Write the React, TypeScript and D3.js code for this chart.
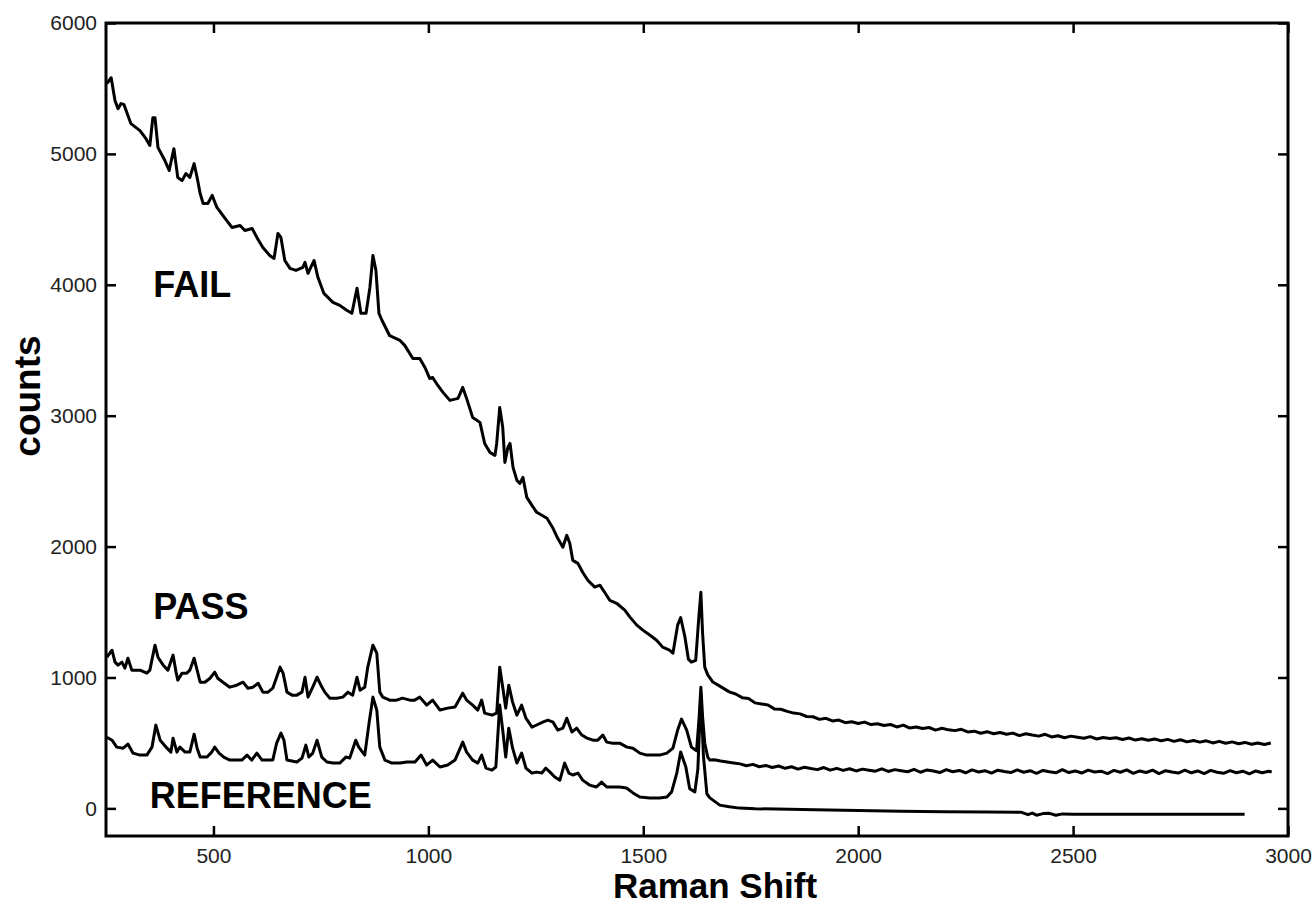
import React, { useEffect, useRef } from 'react'
import * as d3 from 'd3'

// spectra: [raman shift, counts]
const failSpectrum: [number, number][] = [
  [252,5537],[262,5582],[271,5406],[278,5346],[285,5384],[292,5376],[297,5330],[308,5231],[329,5178],[343,5116],
  [352,5064],[359,5277],[364,5277],[371,5048],[387,4949],[397,4873],[408,5040],[417,4820],[427,4796],[436,4850],
  [445,4820],[455,4926],[462,4820],[469,4698],[476,4621],[487,4621],[497,4683],[508,4591],[527,4507],[543,4438],
  [562,4453],[573,4415],[590,4430],[601,4362],[615,4285],[631,4224],[641,4201],[650,4392],[657,4362],[666,4186],
  [678,4125],[692,4110],[708,4133],[713,4171],[720,4087],[734,4186],[743,4057],[757,3934],[778,3866],[794,3843],
  [810,3805],[822,3782],[834,3973],[843,3782],[855,3782],[864,3980],[871,4224],[878,4110],[885,3782],[892,3729],
  [910,3611],[934,3575],[945,3537],[964,3437],[980,3437],[992,3369],[1003,3285],[1010,3292],[1022,3231],[1034,3178],
  [1050,3117],[1069,3132],[1080,3216],[1089,3132],[1103,2987],[1120,2949],[1131,2788],[1143,2720],[1155,2697],[1159,2788],
  [1166,3063],[1173,2911],[1178,2643],[1185,2758],[1190,2788],[1197,2605],[1206,2506],[1213,2483],[1220,2529],[1229,2376],
  [1241,2315],[1252,2262],[1264,2239],[1276,2216],[1290,2140],[1301,2063],[1313,1995],[1322,2086],[1329,2025],[1336,1895],
  [1348,1872],[1359,1804],[1371,1743],[1387,1690],[1399,1705],[1410,1651],[1422,1590],[1438,1567],[1457,1514],[1469,1461],
  [1485,1400],[1499,1362],[1515,1324],[1531,1285],[1545,1232],[1561,1209],[1569,1186],[1580,1400],[1587,1458],[1597,1308],
  [1605,1140],[1612,1117],[1622,1130],[1629,1450],[1634,1651],[1638,1338],[1643,1079],[1650,1020],[1662,965],[1680,930],
  [1700,890],[1715,874],[1730,846],[1745,840],[1760,806],[1775,798],[1790,790],[1805,760],[1820,757],[1835,741],
  [1850,728],[1865,722],[1880,702],[1895,700],[1910,680],[1925,688],[1940,668],[1955,675],[1970,655],[1985,662],
  [2000,648],[2015,659],[2030,640],[2045,646],[2060,633],[2075,641],[2090,622],[2105,636],[2120,614],[2135,622],
  [2150,610],[2165,618],[2180,598],[2195,612],[2210,600],[2225,594],[2240,604],[2255,584],[2270,590],[2285,574],
  [2300,586],[2315,570],[2330,580],[2345,566],[2360,575],[2375,556],[2390,570],[2405,560],[2420,552],[2435,566],
  [2450,546],[2465,555],[2480,540],[2495,552],[2510,544],[2525,536],[2540,548],[2555,530],[2570,542],[2585,534],
  [2600,540],[2615,526],[2630,538],[2645,522],[2660,532],[2675,520],[2690,530],[2705,516],[2720,527],[2735,512],
  [2750,524],[2765,508],[2780,518],[2795,506],[2810,516],[2825,500],[2840,512],[2855,498],[2870,508],[2885,494],
  [2900,504],[2915,490],[2930,500],[2945,488],[2960,500]
]

const passSpectrum: [number, number][] = [
  [252,1155],[264,1208],[271,1117],[278,1094],[287,1117],[294,1071],[301,1147],[310,1056],[329,1056],[345,1033],
  [352,1056],[364,1247],[371,1155],[383,1094],[394,1056],[406,1171],[413,1041],[417,980],[427,1033],[438,1033],
  [445,1056],[455,1147],[462,1056],[469,964],[480,964],[492,994],[503,1041],[510,994],[522,964],[538,926],
  [554,941],[569,964],[580,918],[592,926],[604,956],[615,888],[627,888],[638,918],[647,1002],[655,1079],
  [662,1033],[671,888],[683,865],[694,865],[706,888],[713,1002],[720,850],[731,926],[741,1002],[750,941],
  [759,888],[771,842],[787,842],[801,850],[813,888],[824,865],[834,1002],[841,903],[852,926],[859,1079],
  [871,1247],[880,1186],[887,888],[894,850],[910,827],[926,827],[940,842],[957,827],[968,827],[980,850],
  [996,789],[1010,827],[1027,751],[1045,766],[1062,774],[1080,880],[1089,827],[1103,789],[1115,751],[1124,827],
  [1131,728],[1148,712],[1159,728],[1166,1079],[1173,926],[1180,766],[1187,941],[1196,812],[1206,712],[1217,789],
  [1227,689],[1241,621],[1252,637],[1266,659],[1278,674],[1290,659],[1301,598],[1313,613],[1322,689],[1334,583],
  [1345,613],[1357,560],[1369,537],[1383,521],[1394,521],[1406,560],[1415,506],[1429,498],[1445,498],[1462,468],
  [1476,460],[1492,422],[1508,407],[1522,407],[1538,407],[1555,422],[1569,460],[1580,598],[1589,682],[1601,598],
  [1612,468],[1624,440],[1630,700],[1634,926],[1638,700],[1643,498],[1650,392],[1655,369],[1665,372],[1680,362],
  [1695,354],[1710,347],[1725,340],[1740,326],[1755,336],[1770,318],[1785,328],[1800,312],[1815,324],[1830,306],
  [1845,318],[1860,300],[1875,314],[1890,304],[1905,296],[1920,312],[1935,292],[1950,306],[1965,290],[1980,303],
  [1995,286],[2010,300],[2025,292],[2040,284],[2055,302],[2070,282],[2085,296],[2100,288],[2115,280],[2130,298],
  [2145,276],[2160,294],[2175,286],[2190,274],[2205,296],[2220,280],[2235,290],[2250,272],[2265,294],[2280,278],
  [2295,288],[2310,270],[2325,292],[2340,282],[2355,274],[2370,294],[2385,276],[2400,288],[2415,268],[2430,290],
  [2445,280],[2460,272],[2475,296],[2490,274],[2505,286],[2520,270],[2535,292],[2550,278],[2565,284],[2580,266],
  [2595,290],[2610,276],[2625,294],[2640,268],[2655,286],[2670,274],[2685,292],[2700,266],[2715,288],[2730,278],
  [2745,270],[2760,292],[2775,272],[2790,286],[2805,266],[2820,290],[2835,276],[2850,268],[2865,288],[2880,272],
  [2895,284],[2910,264],[2925,286],[2940,272],[2955,284],[2962,278]
]

const referenceSpectrum: [number, number][] = [
  [252,544],[264,521],[275,468],[290,460],[301,491],[313,422],[329,407],[345,407],[357,468],[366,636],
  [376,521],[392,460],[401,430],[406,536],[415,430],[422,468],[434,430],[445,430],[455,567],[462,460],
  [469,392],[485,392],[496,430],[503,468],[513,422],[524,392],[538,369],[554,369],[566,369],[578,407],
  [589,369],[601,422],[613,369],[638,369],[647,498],[657,575],[664,521],[671,369],[694,354],[706,384],
  [715,483],[722,392],[731,422],[741,521],[752,392],[764,354],[778,346],[794,346],[808,392],[817,384],
  [831,521],[838,468],[852,407],[862,651],[871,850],[880,751],[887,468],[899,369],[915,346],[934,346],
  [950,354],[969,354],[983,407],[996,331],[1010,369],[1027,316],[1045,331],[1062,369],[1080,506],[1089,430],
  [1103,369],[1115,346],[1124,407],[1134,308],[1148,292],[1157,316],[1166,789],[1173,598],[1180,392],[1187,613],
  [1196,460],[1206,346],[1217,422],[1227,308],[1241,270],[1252,277],[1264,270],[1273,308],[1283,277],[1294,240],
  [1306,216],[1317,346],[1327,270],[1336,255],[1348,270],[1359,216],[1375,178],[1391,163],[1403,201],[1415,163],
  [1429,163],[1445,163],[1461,156],[1476,118],[1492,87],[1515,80],[1538,80],[1555,87],[1566,126],[1578,270],
  [1587,430],[1599,316],[1608,150],[1620,126],[1627,300],[1634,870],[1640,400],[1648,110],[1655,80],[1678,25],
  [1700,12],[1724,2],[1760,-3],[1810,-5],[1900,-10],[2000,-16],[2100,-22],[2200,-26],[2300,-28],[2380,-30],
  [2395,-48],[2405,-36],[2415,-52],[2430,-40],[2445,-38],[2460,-52],[2475,-42],[2500,-44],[2600,-44],[2700,-44],
  [2800,-44],[2899,-44]
]

const xTicks = [500, 1000, 1500, 2000, 2500, 3000]
const yTicks = [0, 1000, 2000, 3000, 4000, 5000, 6000]

const labels = [
  { text: 'FAIL', shift: 360, counts: 3910 },
  { text: 'PASS', shift: 360, counts: 1450 },
  { text: 'REFERENCE', shift: 352, counts: 0 },
]

const W = 1315
const H = 906
const margin = { top: 23, right: 27, bottom: 70, left: 106 }

export default function App() {
  const ref = useRef<SVGSVGElement>(null)

  useEffect(() => {
    const svg = d3.select(ref.current)
    svg.selectAll('*').remove()

    const x = d3.scaleLinear().domain([250, 3000]).range([margin.left, W - margin.right])
    const y = d3.scaleLinear().domain([-211, 6000]).range([H - margin.bottom, margin.top])

    const font = '"Liberation Sans", Arial, sans-serif'
    const fmt = d3.format('d')

    svg.append('rect').attr('width', W).attr('height', H).attr('fill', '#fff')

    // ticks point inward on all four sides
    const bottom = svg.append('g')
      .attr('transform', `translate(0,${H - margin.bottom})`)
      .call(d3.axisBottom(x).tickValues(xTicks).tickFormat(fmt).tickSizeInner(-10).tickSizeOuter(0).tickPadding(12))
    const left = svg.append('g')
      .attr('transform', `translate(${margin.left},0)`)
      .call(d3.axisLeft(y).tickValues(yTicks).tickFormat(fmt).tickSizeInner(-10).tickSizeOuter(0).tickPadding(9))
    const top = svg.append('g')
      .attr('transform', `translate(0,${margin.top})`)
      .call(d3.axisTop(x).tickValues(xTicks).tickSizeInner(-10).tickSizeOuter(0).tickFormat(() => ''))
    const right = svg.append('g')
      .attr('transform', `translate(${W - margin.right},0)`)
      .call(d3.axisRight(y).tickValues(yTicks).tickSizeInner(-10).tickSizeOuter(0).tickFormat(() => ''))

    for (const g of [bottom, left, top, right]) {
      g.select('.domain').remove()
      g.selectAll('line').attr('stroke', '#000').attr('stroke-width', 2.5)
      g.selectAll('text')
        .attr('font-family', font)
        .attr('font-size', 21)
        .attr('fill', '#222')
    }

    // frame
    svg.append('rect')
      .attr('x', margin.left)
      .attr('y', margin.top)
      .attr('width', W - margin.left - margin.right)
      .attr('height', H - margin.top - margin.bottom)
      .attr('fill', 'none')
      .attr('stroke', '#000')
      .attr('stroke-width', 3)

    const line = d3.line<[number, number]>()
      .x(d => x(d[0]))
      .y(d => y(d[1]))

    for (const s of [failSpectrum, passSpectrum, referenceSpectrum]) {
      svg.append('path')
        .datum(s)
        .attr('d', line)
        .attr('fill', 'none')
        .attr('stroke', '#000')
        .attr('stroke-width', 3)
        .attr('stroke-linejoin', 'round')
    }

    svg.selectAll('text.lbl')
      .data(labels).enter()
      .append('text')
      .attr('class', 'lbl')
      .attr('x', d => x(d.shift))
      .attr('y', d => y(d.counts))
      .attr('font-family', font)
      .attr('font-weight', 'bold')
      .attr('font-size', 36)
      .text(d => d.text)

    svg.append('text')
      .attr('x', (margin.left + W - margin.right) / 2 + 18)
      .attr('y', 898)
      .attr('text-anchor', 'middle')
      .attr('font-family', font)
      .attr('font-weight', 'bold')
      .attr('font-size', 35)
      .text('Raman Shift')

    svg.append('text')
      .attr('transform', `translate(40,${y(3150)}) rotate(-90)`)
      .attr('text-anchor', 'middle')
      .attr('font-family', font)
      .attr('font-weight', 'bold')
      .attr('font-size', 37)
      .text('counts')
  }, [])

  return <svg ref={ref} width={W} height={H} style={{ position: 'absolute', left: 0, top: 0, display: 'block' }} />
}
